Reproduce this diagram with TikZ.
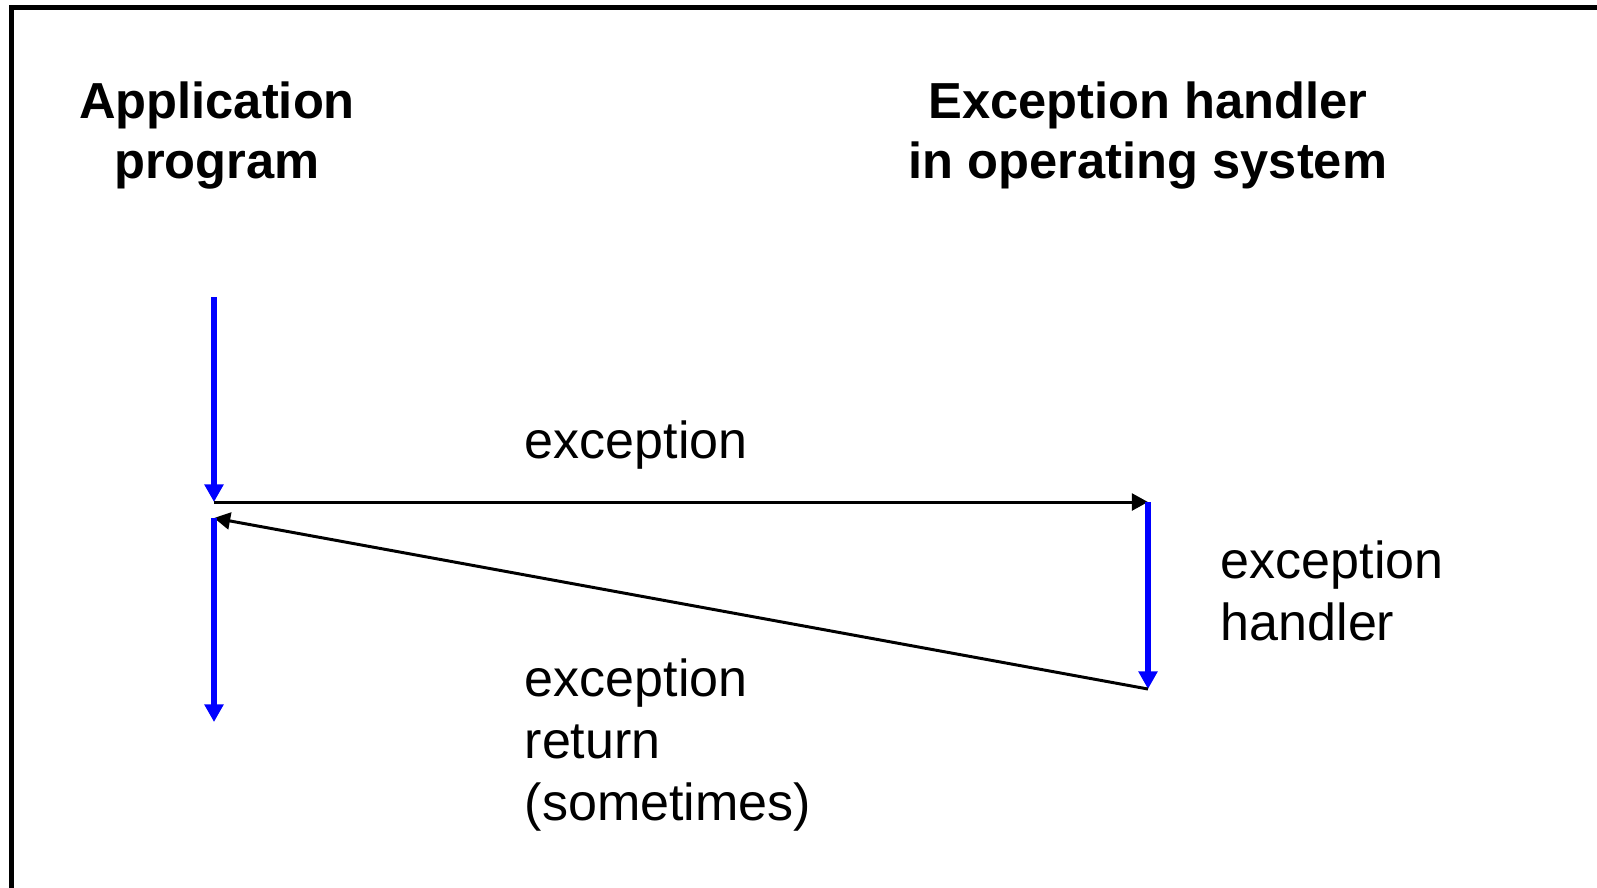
\documentclass[tikz,border=0pt]{standalone}
\usepackage{fontspec}
\setmainfont{Liberation Sans}
\usetikzlibrary{arrows.meta}

\begin{document}
\begin{tikzpicture}[x=0.01cm,y=-0.01cm,
  flow/.style={draw=blue,line width=1.5pt,-{Triangle[length=5pt,width=5.2pt]}},
  jump/.style={draw=black,line width=0.85pt,-{Triangle[length=4.6pt,width=4.8pt]}},
  head/.style={font=\bfseries\fontsize{14.4}{17}\selectfont,align=center,inner sep=0pt,anchor=base},
  lbl/.style={font=\fontsize{14.8}{17.6}\selectfont,align=left,inner sep=0pt,anchor=base west}]
\useasboundingbox (0,0) rectangle (1597,887);

% frame
\draw[line width=1.4pt] (11.5,900) -- (11.5,7.5) -- (1610,7.5);

% headings (base = last line)
\node[head] (app) at (217,178) {Application\\program};
\node[head] (os) at (1148,178) {Exception handler\\in operating system};

% application program
\coordinate (a1) at (214,297);
\coordinate (a2) at (214,502);
\coordinate (a3) at (214,518);
\coordinate (a4) at (214,722);

% handler
\coordinate (h1) at (1148,502);
\coordinate (h2) at (1148,689);

\draw[flow] (a1) -- (a2);
\draw[jump] (a2) -- (h1);
\draw[flow] (h1) -- (h2);
\draw[jump] (h2) -- (a3);
\draw[flow] (a3) -- (a4);

% labels
\node[lbl] (exc) at (524,458) {exception};
\node[lbl] (hdl) at (1220,640) {exception\\handler};
\node[lbl] (ret) at (524,820) {exception\\return\\(sometimes)};

\end{tikzpicture}
\end{document}
